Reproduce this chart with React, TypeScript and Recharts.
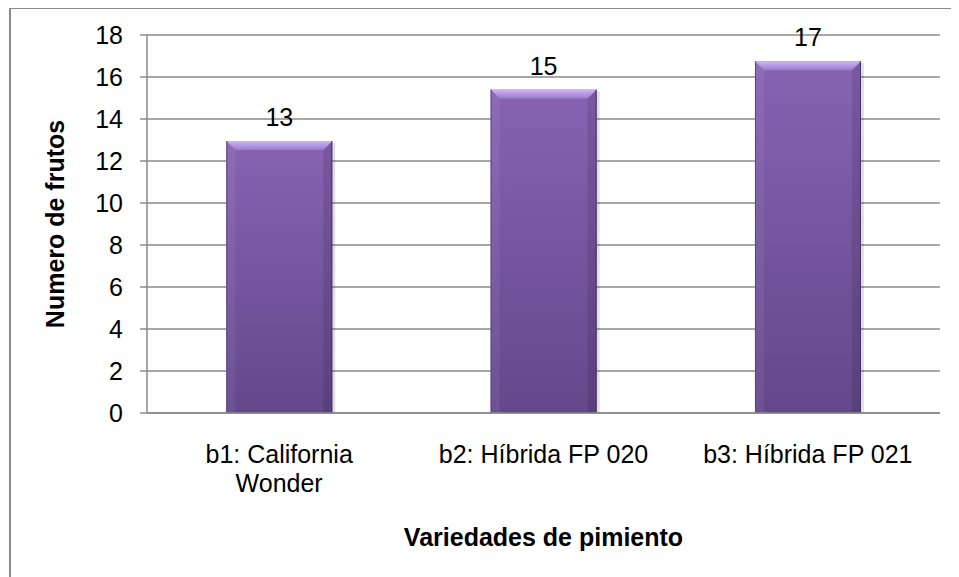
import { Bar, BarChart, CartesianGrid, LabelList, XAxis, YAxis } from "recharts";

const categories = ["b1: California\nWonder", "b2: Híbrida FP 020", "b3: Híbrida FP 021"];
const frutos = [12.95, 15.4, 16.75];
const yTicks = [0, 2, 4, 6, 8, 10, 12, 14, 16, 18];
const yTitle = "Numero de frutos";
const xTitle = "Variedades de pimiento";

const data = categories.map((name, i) => ({ name, value: frutos[i] }));

const FONT = "'Liberation Sans', Arial, sans-serif";
const FS = 25;
const GRAY = "#8a8a8a";

function CategoryTick(props: any) {
  const { x, y, payload } = props;
  const lines = String(payload.value).split("\n");
  return (
    <text x={x} y={y + 50} textAnchor="middle" fontFamily={FONT} fontSize={FS} fill="#000">
      {lines.map((line, i) => (
        <tspan key={i} x={x} dy={i === 0 ? 0 : 29}>
          {line}
        </tspan>
      ))}
    </text>
  );
}

function YTitle(props: any) {
  const vb = props.viewBox;
  const cx = vb.x + 47;
  const cy = vb.y + vb.height / 2;
  return (
    <text
      x={cx}
      y={cy}
      transform={`rotate(-90, ${cx}, ${cy})`}
      textAnchor="middle"
      dominantBaseline="central"
      fontFamily={FONT}
      fontWeight="bold"
      fontSize={FS}
      fill="#000"
    >
      {yTitle}
    </text>
  );
}

function XTitle(props: any) {
  const vb = props.viewBox;
  return (
    <text
      x={vb.x + vb.width / 2}
      y={vb.y + 133}
      textAnchor="middle"
      fontFamily={FONT}
      fontWeight="bold"
      fontSize={FS}
      fill="#000"
    >
      {xTitle}
    </text>
  );
}

function BevelBar(props: any) {
  const { x, y, width: w, height: h } = props;
  if (!h || h <= 0) return null;
  const b = 9;
  return (
    <g>
      <rect x={x + 3} y={y + 2} width={w} height={h - 2} fill="rgba(0,0,0,0.12)" />
      <rect x={x} y={y} width={w} height={h} fill="url(#barBody)" />
      <polygon
        points={`${x},${y} ${x + b},${y + b} ${x + b},${y + h} ${x},${y + h}`}
        fill="rgba(255,255,255,0.06)"
      />
      <polygon
        points={`${x + w},${y} ${x + w - b},${y + b} ${x + w - b},${y + h} ${x + w},${y + h}`}
        fill="rgba(0,0,0,0.1)"
      />
      <polygon
        points={`${x},${y} ${x + w},${y} ${x + w - b},${y + b} ${x + b},${y + b}`}
        fill="url(#barTop)"
      />
      <line x1={x + 0.5} y1={y} x2={x + 0.5} y2={y + h} stroke="#5d4384" strokeWidth={1} />
      <line x1={x + w - 0.5} y1={y} x2={x + w - 0.5} y2={y + h} stroke="#4a3270" strokeWidth={1} />
    </g>
  );
}

export default function App() {
  return (
    <div style={{ position: "relative", width: 951, height: 569, overflow: "hidden", background: "#fff" }}>
      <div
        style={{
          position: "absolute",
          left: 1,
          top: -1,
          width: 1000,
          height: 700,
          border: `2px solid ${GRAY}`,
          boxSizing: "border-box",
        }}
      />
      <div style={{ position: "absolute", left: 0, top: 0 }}>
        <BarChart
          width={951}
          height={569}
          data={data}
          margin={{ top: 27, right: 19, bottom: 0, left: 0 }}
          barCategoryGap="30%"
        >
          <defs>
            <linearGradient id="barBody" x1="0" y1="0" x2="0" y2="1">
              <stop offset="0%" stopColor="#8763b2" />
              <stop offset="100%" stopColor="#63488b" />
            </linearGradient>
            <linearGradient id="barTop" x1="0" y1="0" x2="0" y2="1">
              <stop offset="0%" stopColor="#cfb4f5" />
              <stop offset="100%" stopColor="#9a7acb" />
            </linearGradient>
          </defs>
          <CartesianGrid vertical={false} stroke={GRAY} strokeWidth={1.5} />
          <XAxis
            dataKey="name"
            height={164}
            interval={0}
            tickLine={false}
            tickSize={0}
            tickMargin={0}
            axisLine={{ stroke: GRAY, strokeWidth: 1.5 }}
            tick={<CategoryTick />}
            label={<XTitle />}
          />
          <YAxis
            width={139}
            domain={[0, 18]}
            ticks={yTicks}
            interval={0}
            tickSize={7}
            tickMargin={17}
            axisLine={{ stroke: GRAY, strokeWidth: 1.5 }}
            tickLine={{ stroke: GRAY, strokeWidth: 1.5 }}
            tick={{ fontFamily: FONT, fontSize: FS, fill: "#000" }}
            label={<YTitle />}
          />
          <Bar dataKey="value" shape={<BevelBar />} isAnimationActive={false}>
            <LabelList
              dataKey="value"
              position="top"
              offset={15}
              formatter={(v: any) => Math.round(Number(v)).toString()}
              style={{ fontFamily: FONT, fontSize: FS, fill: "#000" }}
            />
          </Bar>
        </BarChart>
      </div>
    </div>
  );
}
